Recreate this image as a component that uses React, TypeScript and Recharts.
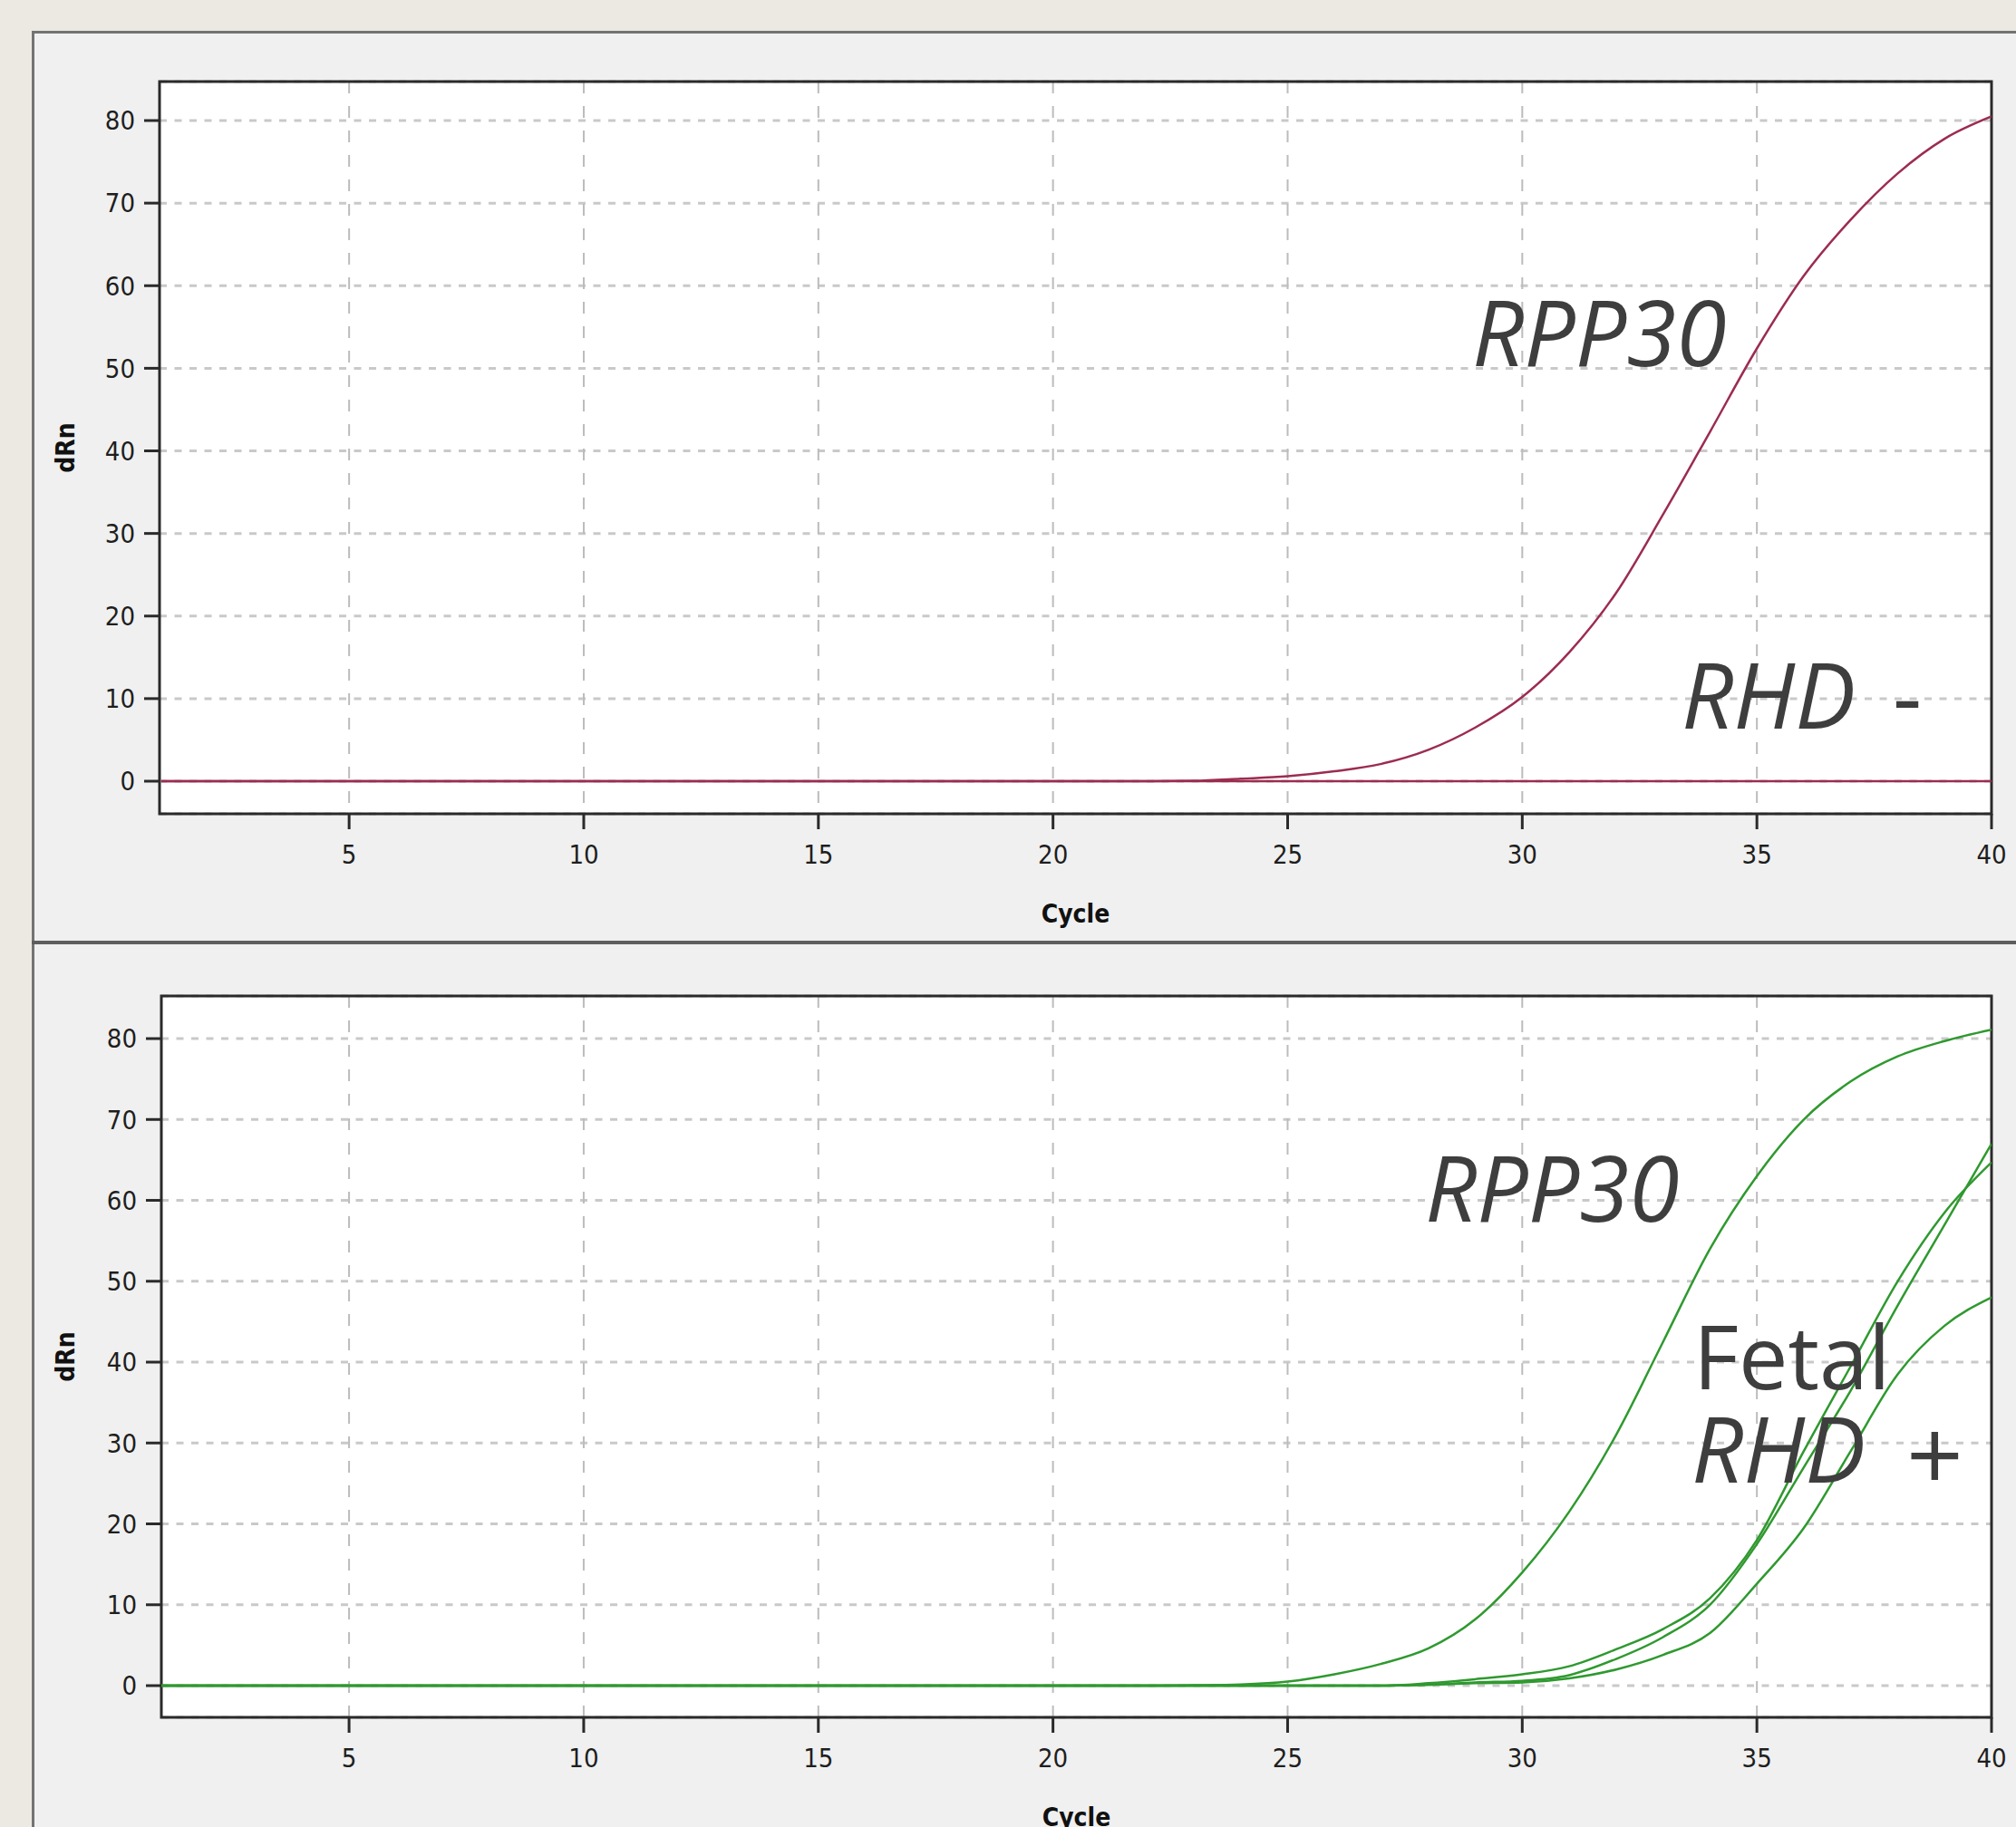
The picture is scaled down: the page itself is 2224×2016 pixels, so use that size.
import React from 'react';
import { LineChart, Line, XAxis, YAxis, CartesianGrid, ReferenceArea } from 'recharts';

// amplification curves, dRn per cycle
const cycles = [
  1, 2, 3, 4, 5, 6, 7, 8, 9, 10, 11, 12, 13, 14, 15, 16, 17, 18, 19, 20,
  21, 22, 23, 24, 25, 26, 27, 28, 29, 30, 31, 32, 33, 34, 35, 36, 37, 38, 39, 40,
];

// top plot: RHD negative sample
const topRpp30 = [
  0, 0, 0, 0, 0, 0, 0, 0, 0, 0, 0, 0, 0, 0, 0, 0, 0, 0, 0, 0,
  0, 0, 0.05, 0.3, 0.6, 1.2, 2.1, 3.8, 6.5, 10.2, 15.6, 22.8, 32.3, 42.3, 52.4, 61.2, 68, 73.6, 77.8, 80.5,
];
const topRhd = [
  0, 0, 0, 0, 0, 0, 0, 0, 0, 0, 0, 0, 0, 0, 0, 0, 0, 0, 0, 0,
  0, 0, 0, 0, 0, 0, 0, 0, 0, 0, 0, 0, 0, 0, 0, 0, 0, 0, 0, 0,
];

// bottom plot: fetal RHD positive sample
const bottomRpp30 = [
  0, 0, 0, 0, 0, 0, 0, 0, 0, 0, 0, 0, 0, 0, 0, 0, 0, 0, 0, 0,
  0, 0, 0.05, 0.15, 0.5, 1.4, 2.7, 4.6, 8.2, 14, 21.5, 31, 42.5, 54, 63, 70, 74.7, 77.8, 79.7, 81.1,
];
const bottomRhdA = [
  0, 0, 0, 0, 0, 0, 0, 0, 0, 0, 0, 0, 0, 0, 0, 0, 0, 0, 0, 0,
  0, 0, 0, 0, 0, 0, 0, 0.1, 0.4, 0.6, 1.3, 3.3, 6, 10, 17.5, 27, 36.5, 47, 57, 67,
];
const bottomRhdB = [
  0, 0, 0, 0, 0, 0, 0, 0, 0, 0, 0, 0, 0, 0, 0, 0, 0, 0, 0, 0,
  0, 0, 0, 0, 0, 0, 0, 0.3, 0.8, 1.4, 2.4, 4.5, 7, 10.8, 18, 29, 39.5, 50, 58.5, 64.7,
];
const bottomRhdC = [
  0, 0, 0, 0, 0, 0, 0, 0, 0, 0, 0, 0, 0, 0, 0, 0, 0, 0, 0, 0,
  0, 0, 0, 0, 0, 0, 0, 0.1, 0.3, 0.4, 0.9, 2, 3.8, 6.5, 12.6, 19.5, 29, 38.5, 44.5, 48,
];

const xTicks = [5, 10, 15, 20, 25, 30, 35, 40];
const yTicks = [0, 10, 20, 30, 40, 50, 60, 70, 80];

const topData = cycles.map((c, i) => ({ cycle: c, rpp30: topRpp30[i], rhd: topRhd[i] }));
const bottomData = cycles.map((c, i) => ({
  cycle: c,
  rpp30: bottomRpp30[i],
  rhdA: bottomRhdA[i],
  rhdB: bottomRhdB[i],
  rhdC: bottomRhdC[i],
}));

const RED = '#9c2c50';
const GREEN = '#2f992f';
const tickFont = { fill: '#1e1e1e', fontSize: 29, fontFamily: '"DejaVu Sans Condensed", "DejaVu Sans", sans-serif' };
const titleStyle = { fontSize: 28, fontWeight: 'bold', fontFamily: '"DejaVu Sans Condensed", "DejaVu Sans", sans-serif', fill: '#111' };

type PlotProps = {
  data: any[];
  series: { key: string; color: string }[];
  top: number;
  height: number;
  marginTop: number;
  axisWidth: number;
  axisHeight: number;
  xMin: number;
  yDomain: [number, number];
  cycleOffset: number;
};

const Plot: React.FC<PlotProps> = ({ data, series, top, height, marginTop, axisWidth, axisHeight, xMin, yDomain, cycleOffset }) => (
  <div style={{ position: 'absolute', left: 0, top, width: 2224, height }}>
    <LineChart width={2224} height={height} data={data} margin={{ top: marginTop, right: 27, bottom: 0, left: 0 }}>
      <CartesianGrid vertical={false} stroke="#c9c9c9" strokeWidth={3} strokeDasharray="8 8.5" fill="#ffffff" />
      <CartesianGrid horizontal={false} stroke="#bcbcbc" strokeWidth={2} strokeDasharray="13 14" />
      <XAxis
        dataKey="cycle"
        type="number"
        domain={[xMin, 40]}
        ticks={xTicks}
        allowDataOverflow
        height={axisHeight}
        axisLine={false}
        tickLine={{ stroke: '#2a2a2a', strokeWidth: 3 }}
        tickSize={17}
        tickMargin={17}
        tick={tickFont}
        label={{ value: 'Cycle', position: 'insideBottom', offset: cycleOffset, style: titleStyle }}
      />
      <YAxis
        type="number"
        domain={yDomain}
        ticks={yTicks}
        allowDataOverflow
        width={axisWidth}
        axisLine={false}
        tickLine={{ stroke: '#2a2a2a', strokeWidth: 3 }}
        tickSize={17}
        tickMargin={10}
        tick={tickFont}
        label={{ value: 'dRn', angle: -90, position: 'insideLeft', offset: 72, style: { ...titleStyle, textAnchor: 'middle' } }}
      />
      {series.map((s) => (
        <Line
          key={s.key}
          dataKey={s.key}
          type="monotone"
          stroke={s.color}
          strokeWidth={2.5}
          dot={false}
          isAnimationActive={false}
        />
      ))}
      <ReferenceArea
        x1={xMin}
        x2={40}
        y1={yDomain[0]}
        y2={yDomain[1]}
        fill="none"
        stroke="#2a2a2a"
        strokeWidth={3}
        ifOverflow="visible"
      />
    </LineChart>
  </div>
);

const annot = { fontFamily: '"Open Sans", "Noto Sans", sans-serif', fontSize: 100, fill: '#3e3e3e' };

const App: React.FC = () => (
  <div style={{ position: 'absolute', left: 0, top: 0, width: 2224, height: 2016, overflow: 'hidden', background: '#ece9e2' }}>
    {/* panel backgrounds */}
    <div style={{ position: 'absolute', left: 35, top: 34, width: 2189, height: 1982, background: '#f0f0f0', borderLeft: '3px solid #737373', borderTop: '3px solid #737373', boxSizing: 'border-box' }} />
    <div style={{ position: 'absolute', left: 35, top: 1038, width: 2189, height: 4, background: '#5e5e5e' }} />

    <Plot
      data={topData}
      series={[{ key: 'rhd', color: RED }, { key: 'rpp30', color: RED }]}
      top={0}
      height={1040}
      marginTop={90}
      axisWidth={176}
      axisHeight={142}
      xMin={0.96}
      yDomain={[-3.95, 84.72]}
      cycleOffset={22}
    />
    <Plot
      data={bottomData}
      series={[
        { key: 'rhdC', color: GREEN },
        { key: 'rhdA', color: GREEN },
        { key: 'rhdB', color: GREEN },
        { key: 'rpp30', color: GREEN },
      ]}
      top={1040}
      height={1008}
      marginTop={59}
      axisWidth={178}
      axisHeight={153}
      xMin={1}
      yDomain={[-3.92, 85.27]}
      cycleOffset={33}
    />

    {/* gene annotations */}
    <svg width={2224} height={2016} style={{ position: 'absolute', left: 0, top: 0, pointerEvents: 'none' }}>
      <text x={1624} y={404} {...annot} fontStyle="italic">RPP30</text>
      <text x={1855} y={804} {...annot}>
        <tspan fontStyle="italic">RHD</tspan>
        <tspan x={2088}>-</tspan>
      </text>
      <text x={1572} y={1348} {...annot} fontStyle="italic">RPP30</text>
      <text x={1868} y={1533} {...annot} fontSize={97}>Fetal</text>
      <text x={1866} y={1636} {...annot}>
        <tspan fontStyle="italic">RHD</tspan>
        <tspan x={2103} dy={9} fontSize={110}>+</tspan>
      </text>
    </svg>
  </div>
);

export default App;
